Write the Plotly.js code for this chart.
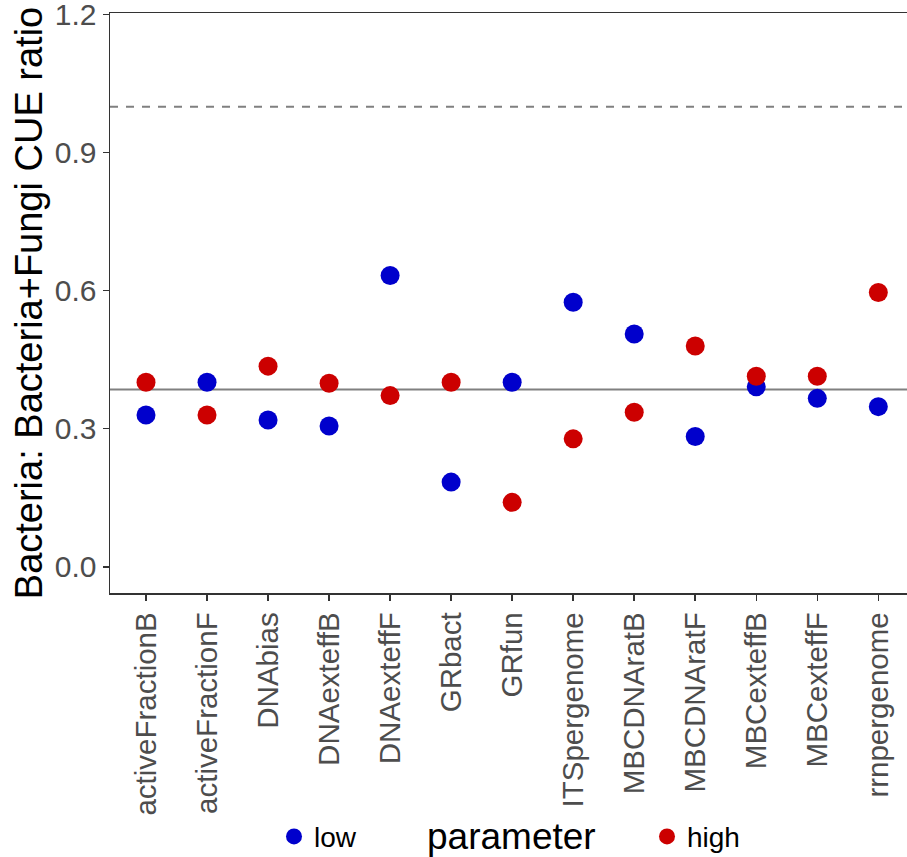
<!DOCTYPE html>
<html>
<head>
<meta charset="utf-8">
<script src="https://cdn.plot.ly/plotly-3.0.1.min.js"></script>
<style>html,body{margin:0;padding:0;background:#fff;}#chart{width:907px;height:857px;}</style>
</head>
<body>
<div id="chart"></div>
<script>
var categories = ["activeFractionB","activeFractionF","DNAbias","DNAexteffB","DNAexteffF","GRbact","GRfun","ITSpergenome","MBCDNAratB","MBCDNAratF","MBCexteffB","MBCexteffF","rrnpergenome"];
var lowValues  = [0.330, 0.401, 0.319, 0.306, 0.633, 0.184, 0.401, 0.575, 0.506, 0.283, 0.391, 0.366, 0.348];
var highValues = [0.401, 0.330, 0.436, 0.399, 0.372, 0.401, 0.140, 0.278, 0.336, 0.480, 0.414, 0.414, 0.596];
var seriesNames = ["low", "high"];
var referenceLine = 1.0;
var meanLine = 0.385;
var yTicks = [0.0, 0.3, 0.6, 0.9, 1.2];
var yTickText = ["0.0", "0.3", "0.6", "0.9", "1.2"];

var FONT = '"Liberation Sans", Arial, Helvetica, sans-serif';

var traces = [
  {x: categories, y: lowValues, name: seriesNames[0], type: 'scatter', mode: 'markers',
   marker: {color: '#0000CC', size: 19}, legend: 'legend', cliponaxis: false},
  {x: categories, y: highValues, name: seriesNames[1], type: 'scatter', mode: 'markers',
   marker: {color: '#CC0000', size: 19}, legend: 'legend2', cliponaxis: false}
];

var layout = {
  width: 907, height: 857,
  margin: {l: 110, r: 0, t: 12.7, b: 263.7},
  paper_bgcolor: '#ffffff', plot_bgcolor: '#ffffff',
  font: {family: FONT, color: '#000000'},
  showlegend: true,
  xaxis: {
    type: 'category', categoryorder: 'array', categoryarray: categories,
    range: [-0.59, 12.47],
    showgrid: false, zeroline: false,
    showline: true, linecolor: '#333333', linewidth: 1.5, mirror: true,
    ticks: 'outside', ticklen: 6, tickwidth: 1.5, tickcolor: '#333333',
    tickangle: -90,
    tickfont: {family: FONT, size: 29.5, color: '#4D4D4D'}
  },
  yaxis: {
    range: [-0.057, 1.2035],
    tickvals: yTicks, ticktext: yTickText,
    ticklabeloverflow: 'allow',
    showgrid: false, zeroline: false,
    showline: true, linecolor: '#333333', linewidth: 1.5,
    ticks: 'outside', ticklen: 6, tickwidth: 1.5, tickcolor: '#333333',
    tickfont: {family: FONT, size: 30, color: '#4D4D4D'},
    title: {text: 'Bacteria: Bacteria+Fungi CUE ratio', font: {family: FONT, size: 38, color: '#000000'}, standoff: 0}
  },
  shapes: [
    {type: 'line', xref: 'paper', yref: 'y', x0: 0, x1: 1, y0: referenceLine, y1: referenceLine,
     line: {color: '#808080', width: 2, dash: '8px,8px'}, layer: 'below'},
    {type: 'line', xref: 'paper', yref: 'y', x0: 0, x1: 1, y0: meanLine, y1: meanLine,
     line: {color: '#808080', width: 2}, layer: 'below'}
  ],
  legend: {
    orientation: 'h', xref: 'container', yref: 'container',
    x: 274/907, y: 1 - 836.7/857, xanchor: 'left', yanchor: 'middle',
    font: {family: FONT, size: 28, color: '#000000'}, bgcolor: 'rgba(0,0,0,0)'
  },
  legend2: {
    orientation: 'h', xref: 'container', yref: 'container',
    x: 647/907, y: 1 - 836.7/857, xanchor: 'left', yanchor: 'middle',
    font: {family: FONT, size: 28, color: '#000000'}, bgcolor: 'rgba(0,0,0,0)'
  },
  annotations: [
    {text: 'parameter', xref: 'paper', yref: 'paper', x: (511.7 - 110) / 797, y: (593.3 - 836.7) / 580.3,
     xanchor: 'center', yanchor: 'middle', showarrow: false,
     font: {family: FONT, size: 37, color: '#000000'}}
  ]
};

Plotly.newPlot('chart', traces, layout, {displayModeBar: false, staticPlot: true});
</script>
</body>
</html>
